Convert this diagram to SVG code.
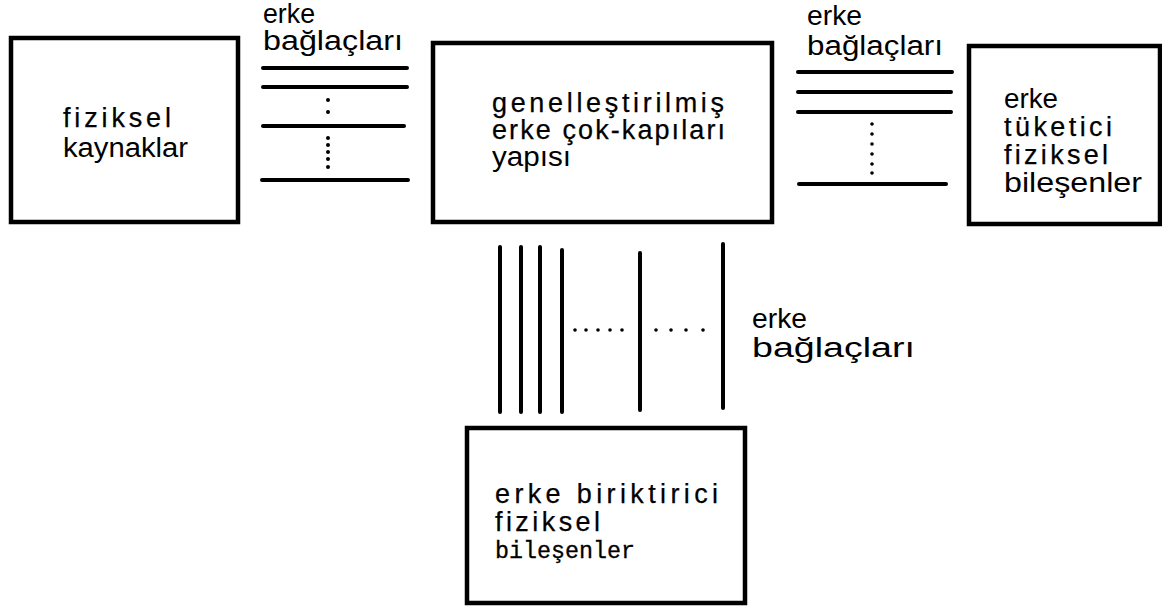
<svg xmlns="http://www.w3.org/2000/svg" width="1162" height="610" viewBox="0 0 1162 610">
  <style>
    .box { fill: #fff; stroke: #000; stroke-width: 4.5; }
    .wire { stroke: #000; stroke-width: 4; stroke-linecap: round; fill: none; }
    .dot { fill: #000; }
    .lbl { font-family: "Liberation Sans", Arial, sans-serif; font-size: 27px; fill: #000; }
    .sp { stroke: #000; stroke-width: 0.25; }
    .mono { font-family: "Liberation Mono", "Courier New", monospace; font-size: 24px; fill: #000; stroke: #000; stroke-width: 0.3; }
  </style>
  <rect width="1162" height="610" fill="#fff"/>

  <!-- energy bonds between the blocks -->
  <g id="connectors">
    <!-- sources to multiport structure -->
    <line class="wire" x1="263" y1="68" x2="407" y2="68"/>
    <line class="wire" x1="263" y1="87" x2="407" y2="87"/>
    <line class="wire" x1="263" y1="126" x2="404" y2="126"/>
    <line class="wire" x1="262" y1="180" x2="408" y2="180"/>
    <g class="dot">
      <circle cx="328" cy="100" r="2"/><circle cx="328" cy="112" r="2"/>
      <circle cx="328" cy="138" r="2"/><circle cx="328" cy="145" r="2"/>
      <circle cx="328" cy="152" r="2"/><circle cx="328" cy="159" r="2"/>
      <circle cx="328" cy="167" r="2"/>
    </g>
    <!-- multiport structure to consumers -->
    <line class="wire" x1="798" y1="72" x2="952" y2="72"/>
    <line class="wire" x1="798" y1="92" x2="951" y2="92"/>
    <line class="wire" x1="798" y1="112" x2="951" y2="112"/>
    <line class="wire" x1="799" y1="184" x2="946" y2="184"/>
    <g class="dot">
      <circle cx="872" cy="124" r="1.8"/><circle cx="872" cy="134" r="1.8"/>
      <circle cx="872" cy="144" r="1.8"/><circle cx="872" cy="154" r="1.8"/>
      <circle cx="872" cy="164" r="1.8"/><circle cx="872" cy="173" r="1.8"/>
    </g>
    <!-- multiport structure to storage -->
    <line class="wire" x1="500" y1="247" x2="500" y2="412"/>
    <line class="wire" x1="521" y1="247" x2="521" y2="412"/>
    <line class="wire" x1="540" y1="247" x2="540" y2="412"/>
    <line class="wire" x1="562" y1="250" x2="562" y2="412"/>
    <line class="wire" x1="640" y1="253" x2="640" y2="410"/>
    <line class="wire" x1="723" y1="244" x2="723" y2="408"/>
    <g class="dot">
      <circle cx="575" cy="330" r="1.8"/><circle cx="586" cy="330" r="1.8"/>
      <circle cx="598" cy="330" r="1.8"/><circle cx="610" cy="330" r="1.8"/>
      <circle cx="622" cy="330" r="1.8"/>
      <circle cx="656" cy="330" r="1.8"/><circle cx="671" cy="330" r="1.8"/>
      <circle cx="686" cy="330" r="1.8"/><circle cx="703" cy="330" r="1.8"/>
    </g>
    <!-- bond labels -->
    <text class="lbl" x="263" y="23" textLength="52" lengthAdjust="spacingAndGlyphs">erke</text>
    <text class="lbl" x="263" y="50" textLength="140" lengthAdjust="spacingAndGlyphs">bağlaçları</text>
    <text class="lbl" x="807" y="25" textLength="55" lengthAdjust="spacingAndGlyphs">erke</text>
    <text class="lbl" x="807" y="55" textLength="136" lengthAdjust="spacingAndGlyphs">bağlaçları</text>
    <text class="lbl" x="752" y="328" textLength="55" lengthAdjust="spacingAndGlyphs">erke</text>
    <text class="lbl" x="752" y="357" textLength="163" lengthAdjust="spacingAndGlyphs">bağlaçları</text>
  </g>

  <g id="sources">
    <rect class="box" x="11" y="38" width="227" height="184"/>
    <text class="lbl sp" x="63" y="127" textLength="108" lengthAdjust="spacing">fiziksel</text>
    <text class="lbl" x="63" y="157" textLength="125" lengthAdjust="spacingAndGlyphs">kaynaklar</text>
  </g>

  <g id="multiport">
    <rect class="box" x="433" y="43" width="339" height="179"/>
    <text class="lbl sp" x="492" y="112" textLength="232" lengthAdjust="spacing">genelleştirilmiş</text>
    <text class="lbl sp" x="492" y="139" textLength="233" lengthAdjust="spacing">erke  çok-kapıları</text>
    <text class="lbl" x="492" y="166" textLength="79" lengthAdjust="spacingAndGlyphs">yapısı</text>
  </g>

  <g id="consumers">
    <rect class="box" x="969" y="46" width="191" height="178"/>
    <text class="lbl" x="1004" y="108" textLength="54" lengthAdjust="spacingAndGlyphs">erke</text>
    <text class="lbl sp" x="1004" y="136" textLength="108" lengthAdjust="spacing">tüketici</text>
    <text class="lbl sp" x="1004" y="164" textLength="104" lengthAdjust="spacing">fiziksel</text>
    <text class="lbl" x="1004" y="192" textLength="138" lengthAdjust="spacingAndGlyphs">bileşenler</text>
  </g>

  <g id="storage">
    <rect class="box" x="467" y="428" width="278" height="175"/>
    <text class="lbl sp" x="495" y="503" textLength="223" lengthAdjust="spacing">erke biriktirici</text>
    <text class="lbl sp" x="495" y="531" textLength="105" lengthAdjust="spacing">fiziksel</text>
    <text class="mono" x="495" y="558" textLength="140" lengthAdjust="spacingAndGlyphs">bileşenler</text>
  </g>
</svg>
